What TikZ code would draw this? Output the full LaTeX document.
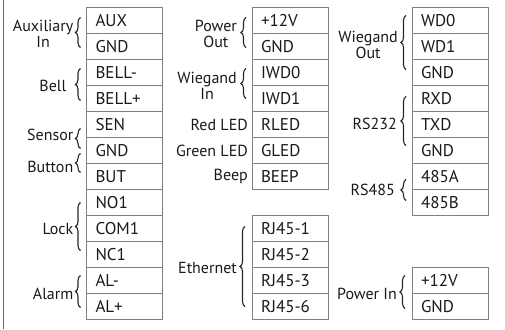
\documentclass[tikz,border=0pt]{standalone}
\usepackage{fontspec}
\setmainfont{PT Sans}
\usetikzlibrary{positioning,decorations.pathreplacing}
\tikzset{pin/.style={draw=black!50, line width=0.8pt, minimum height=26pt, text width=58pt, inner xsep=9pt, inner ysep=0pt, outer sep=0pt, align=left, text=black!90, font=\fontsize{17}{18}\selectfont}}
\tikzset{lbl/.style={align=center, inner sep=0pt, text=black!90, font=\fontsize{16}{16}\selectfont}}
\tikzset{brc/.style={decorate, decoration={brace, amplitude=5pt}, line width=1.1pt, black!85}}

\begin{document}
\begin{tikzpicture}[x=1pt, y=-1pt]
\useasboundingbox (0,0) rectangle (505,329);
\draw[black!60, line width=0.8pt] (3.5,0) -- (3.5,329);
% terminal blocks
\foreach \txt [count=\i from 0] in {AUX,GND,BELL-,BELL+,SEN,GND,BUT,NO1,COM1,NC1,AL-,AL+}
  \node[pin] (a\i) at (124.5,{20.5+26*\i}) {\txt};
\foreach \txt [count=\i from 0] in {+12V,GND,IWD0,IWD1,RLED,GLED,BEEP}
  \node[pin] (b\i) at (290,{20.5+26*\i}) {\txt};
\foreach \txt [count=\i from 0] in {RJ45-1,RJ45-2,RJ45-3,RJ45-6}
  \node[pin] (e\i) at (290,{20.5+26*(\i+8)}) {\txt};
\foreach \txt [count=\i from 0] in {WD0,WD1,GND,RXD,TXD,GND,485A,485B}
  \node[pin] (c\i) at (450,{20.5+26*\i}) {\txt};
\foreach \txt [count=\i from 0] in {+12V,GND}
  \node[pin] (p\i) at (450,{20.5+26*(\i+10)}) {\txt};
% left column
\node[lbl, left=13pt of a0.south west] (auxin) {Auxiliary\\In};
\draw[brc] ([xshift=-6pt,yshift=12pt]a1.south west) -- ([xshift=-6pt,yshift=-10pt]a0.north west);
\node[lbl, left=20pt of a2.south west] (bell) {Bell};
\draw[brc] ([xshift=-6pt,yshift=11pt]a3.south west) -- ([xshift=-6pt,yshift=-9pt]a2.north west);
\node[lbl, left=13pt of a4.south west, yshift=3pt] (sensor) {Sensor};
\draw[brc] ([xshift=-6pt,yshift=-11pt]a4.south west) -- ([xshift=-6pt,yshift=9pt]a4.south west);
\node[lbl, left=13pt of a5.south west, yshift=-3pt] (button) {Button};
\draw[brc] ([xshift=-6pt,yshift=-9pt]a5.south west) -- ([xshift=-6pt,yshift=10pt]a5.south west);
\node[lbl, left=13pt of a8.west] (lock) {Lock};
\draw[brc] ([xshift=-6pt,yshift=17pt]a9.south west) -- ([xshift=-6pt,yshift=-13pt]a7.north west);
\node[lbl, left=13pt of a10.south west] (alarm) {Alarm};
\draw[brc] ([xshift=-6pt,yshift=12pt]a11.south west) -- ([xshift=-6pt,yshift=-8pt]a10.north west);
% middle column
\node[lbl, left=15pt of b0.south west] (pwrout) {Power\\Out};
\draw[brc] ([xshift=-6pt,yshift=12pt]b1.south west) -- ([xshift=-6pt,yshift=-10pt]b0.north west);
\node[lbl, left=15pt of b2.south west] (wgin) {Wiegand\\In};
\draw[brc] ([xshift=-6pt,yshift=13pt]b3.south west) -- ([xshift=-6pt,yshift=-9pt]b2.north west);
\node[lbl, left=4pt of b4.west] (rled) {Red LED};
\node[lbl, left=4pt of b5.west] (gled) {Green LED};
\node[lbl, left=4pt of b6.west] (beep) {Beep};
\node[lbl, left=15pt of e1.south west] (eth) {Ethernet};
\draw[brc] ([xshift=-7pt,yshift=13pt]e3.south west) -- ([xshift=-7pt,yshift=-11pt]e0.north west);
% right column
\node[lbl, left=14pt of c1.west, yshift=2pt] (wgout) {Wiegand\\Out};
\draw[brc] ([xshift=-6pt,yshift=16pt]c2.south west) -- ([xshift=-6pt,yshift=-8pt]c0.north west);
\node[lbl, left=15pt of c4.west, yshift=1pt] (rs232) {RS232};
\draw[brc] ([xshift=-6pt,yshift=18pt]c5.south west) -- ([xshift=-6pt,yshift=-11pt]c3.north west);
\node[lbl, left=17pt of c6.south west] (rs485) {RS485};
\draw[brc] ([xshift=-6pt,yshift=15pt]c7.south west) -- ([xshift=-6pt,yshift=-16pt]c6.north west);
\node[lbl, left=15pt of p0.south west] (pwrin) {Power In};
\draw[brc] ([xshift=-7pt,yshift=11pt]p1.south west) -- ([xshift=-7pt,yshift=-8pt]p0.north west);
\end{tikzpicture}
\end{document}
